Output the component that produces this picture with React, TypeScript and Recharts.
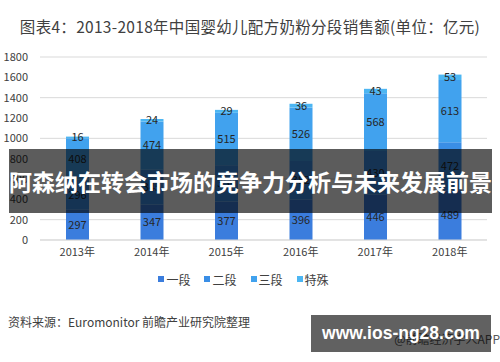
import { BarChart, Bar, XAxis, YAxis, CartesianGrid, Legend, LabelList } from "recharts";

const years = ["2013年", "2014年", "2015年", "2016年", "2017年", "2018年"];
const stage1 = [297, 347, 377, 396, 446, 489];
const stage2 = [296, 345, 359, 382, 430, 472];
const stage3 = [408, 474, 515, 526, 568, 613];
const special = [16, 24, 29, 36, 43, 53];
const yTicks = [0, 200, 400, 600, 800, 1000, 1200, 1400, 1600, 1800];

const series = [
  { key: "s1", name: "一段", color: "#3b7ddd" },
  { key: "s2", name: "二段", color: "#3a8ee6" },
  { key: "s3", name: "三段", color: "#41a2ee" },
  { key: "s4", name: "特殊", color: "#4db6f2" },
];

const data = years.map((y, i) => ({
  year: y,
  s1: stage1[i],
  s2: stage2[i],
  s3: stage3[i],
  s4: special[i],
}));

const font = "'Microsoft YaHei', 'Noto Sans CJK SC', sans-serif";

function LegendBox() {
  return (
    <div style={{ display: "flex", justifyContent: "center", gap: 14, fontSize: 12, color: "#404040", fontFamily: font, height: 20, alignItems: "center" }}>
      {series.map((s) => (
        <span key={s.key} style={{ display: "flex", alignItems: "center" }}>
          <span style={{ width: 6, height: 6, background: s.color, display: "inline-block", marginRight: 2 }} />
          {s.name}
        </span>
      ))}
    </div>
  );
}

export default function App() {
  return (
    <div style={{ position: "absolute", left: 0, top: 0, width: 500, height: 362, background: "#fff", fontFamily: font, overflow: "hidden" }}>
      <div style={{ position: "absolute", left: 0, top: 15, width: 500, textAlign: "center", fontSize: 15.5, color: "#404040", letterSpacing: 0.3 }}>
        图表4：2013-2018年中国婴幼儿配方奶粉分段销售额(单位：亿元)
      </div>
      <BarChart
        width={500}
        height={362}
        data={data}
        margin={{ top: 57, right: 13, left: 0, bottom: 73 }}
      >
        <CartesianGrid vertical={false} stroke="#d9d9d9" />
        <XAxis
          dataKey="year"
          tickLine={false}
          axisLine={{ stroke: "#d9d9d9" }}
          height={29}
          tick={{ fontSize: 11, fill: "#404040" }}
        />
        <YAxis
          width={40}
          domain={[0, 1800]}
          ticks={yTicks}
          tickLine={false}
          axisLine={false}
          tickMargin={6}
          tick={{ fontSize: 11, fill: "#404040" }}
        />
        <Legend verticalAlign="bottom" height={20} content={() => <LegendBox />} />
        {series.map((s) => (
          <Bar key={s.key} dataKey={s.key} name={s.name} stackId="a" fill={s.color} barSize={23} isAnimationActive={false}>
            <LabelList dataKey={s.key} position="center" fill="#262626" fontSize={11} />
          </Bar>
        ))}
      </BarChart>
      <div style={{ position: "absolute", left: 8, top: 313, fontSize: 12, color: "#404040" }}>
        资料来源：Euromonitor 前瞻产业研究院整理
      </div>
      <div style={{ position: "absolute", right: 0, top: 330, fontSize: 12, color: "#595959", whiteSpace: "nowrap" }}>
        @前瞻经济学人APP
      </div>
      <div
        style={{
          position: "absolute",
          left: 9,
          top: 149,
          width: 483,
          height: 64,
          background: "rgba(0,0,0,0.64)",
          color: "#fff",
          fontSize: 23,
          fontWeight: 700,
          display: "flex",
          alignItems: "center",
          justifyContent: "center",
          whiteSpace: "nowrap",
        }}
      >
        阿森纳在转会市场的竞争力分析与未来发展前景
      </div>
      <div
        style={{
          position: "absolute",
          left: 311,
          top: 315,
          width: 180,
          height: 37,
          background: "rgba(0,0,0,0.62)",
          color: "#fff",
          fontSize: 17.5,
          fontWeight: 700,
          display: "flex",
          alignItems: "center",
          justifyContent: "center",
          whiteSpace: "nowrap",
          fontFamily: "'Liberation Sans', Arial, sans-serif",
        }}
      >
        www.ios-ng28.com
      </div>
    </div>
  );
}
